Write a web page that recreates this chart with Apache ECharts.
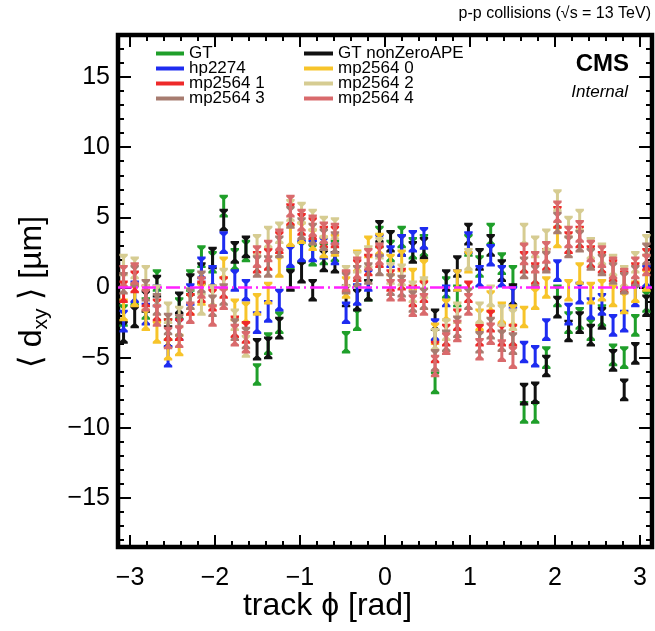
<!DOCTYPE html>
<html>
<head>
<meta charset="utf-8">
<script src="https://cdn.jsdelivr.net/npm/echarts@6/dist/echarts.min.js"></script>
<style>
html, body { margin: 0; padding: 0; background: #fff; }
#chart { width: 655px; height: 631px; }
</style>
</head>
<body>
<div id="chart"></div>
<script>
// 48 bins in track phi, from -pi to pi
const nBins = 48
const phiMin = -Math.PI
const phiMax = Math.PI

const gt = [-2.0,-0.5,-1.5,0.5,-3.0,-1.5,0.5,2.2,1.8,5.8,2.0,2.6,-6.2,-4.0,-2.5,0.6,2.5,2.3,2.4,2.6,-3.9,-2.3,-0.2,3.6,2.6,3.6,2.8,3.0,-6.8,0.0,-0.6,3.0,1.5,3.8,1.7,0.8,-8.9,-8.9,-5.0,-0.6,-2.5,-2.2,-3.0,-2.0,-4.8,-5.0,-2.7,-1.0]
const gtNonZeroAPE = [-3.2,-2.1,-1.0,0.1,-3.5,-1.1,0.2,1.0,2.1,4.8,2.5,2.9,-4.4,-4.3,-2.9,0.5,1.1,-0.2,1.9,1.8,-0.6,-0.9,-0.2,4.0,3.3,3.0,2.5,2.8,-2.3,0.5,1.5,3.8,2.0,3.0,1.2,-0.5,-7.6,-7.5,-5.6,-1.4,-3.1,-2.5,-3.4,-2.2,-5.2,-7.3,-4.7,-1.3]
const hp2274 = [-2.4,-0.3,-1.9,-0.6,-4.9,-3.0,-0.5,1.4,0.8,3.2,0.5,-0.2,-2.5,-1.7,-0.9,2.2,2.6,2.6,2.8,2.4,-1.8,-0.5,0.5,3.0,2.2,3.0,3.3,3.5,-3.0,-0.6,0.5,3.2,0.8,2.3,0.8,-0.7,-4.6,-4.9,-3.0,1.2,-1.9,-0.4,-1.5,-1.2,-2.7,-2.4,-0.6,0.8]
const mp0 = [-1.6,-0.6,-2.3,-3.2,-4.4,-4.1,-1.2,-0.5,-0.6,1.4,-1.6,-1.8,-1.2,-0.4,1.5,3.7,3.9,3.4,2.9,3.0,0.0,1.9,2.9,3.1,1.6,1.9,0.6,1.2,-3.3,-1.6,0.5,1.8,-2.3,-1.0,-1.8,-2.0,-2.1,-0.8,0.0,3.6,-0.2,1.0,-0.4,-0.2,-0.6,-1.1,-0.3,0.5]
const mp1 = [-0.3,0.4,-0.6,-1.6,-3.0,-3.0,-1.2,-0.3,-0.9,0.0,-2.8,-3.2,1.8,2.0,3.2,5.2,4.5,4.2,3.6,3.6,0.4,1.2,1.6,2.2,0.5,0.6,-0.6,-0.3,-4.6,-3.4,-2.3,-0.3,-3.4,-2.4,-3.4,-3.4,1.8,1.0,2.0,5.0,3.2,3.6,2.2,1.8,1.2,0.4,1.0,2.0]
const mp2 = [1.6,1.4,0.8,-0.6,-1.8,-2.1,-0.8,-1.2,-0.6,0.6,-2.3,-4.2,3.0,3.6,3.9,5.5,5.3,4.8,4.3,4.2,0.8,1.8,2.2,2.8,1.0,0.9,-0.3,0.0,-3.7,-3.0,-1.8,2.0,-1.8,-0.6,-2.0,-2.3,3.8,2.9,3.4,6.2,4.3,4.8,2.8,2.4,1.6,0.8,1.8,3.0]
const mp3 = [0.3,0.8,-0.2,-1.2,-2.6,-2.7,-0.8,0.4,-1.3,-0.5,-3.0,-3.6,1.5,1.5,2.9,5.0,4.2,3.8,3.4,3.2,0.3,0.8,1.0,1.6,0.2,0.1,-1.0,-0.8,-5.2,-3.8,-2.8,-0.8,-3.9,-2.9,-3.8,-4.0,1.4,0.8,1.8,4.6,2.9,3.3,2.0,1.6,1.0,0.3,0.8,2.4]
const mp4 = [0.8,1.0,-0.9,-2.0,-3.6,-3.5,-1.8,0.0,-2.0,-0.8,-3.4,-3.9,2.2,2.6,3.4,5.8,4.8,4.4,3.9,3.8,0.5,1.4,2.0,2.4,-0.2,-0.2,-1.3,-1.2,-5.6,-4.0,-3.1,-1.2,-4.4,-3.3,-4.5,-5.0,2.4,1.8,2.5,5.4,3.6,4.0,2.6,2.2,1.4,0.6,1.4,1.6]
const errHalf = 0.7

const refLine = [[phiMin, 0], [phiMax, 0]]

const xMajor = [-3, -2, -1, 0, 1, 2, 3]
const xMinor = [-3.0,-2.8,-2.6,-2.4,-2.2,-1.8,-1.6,-1.4,-1.2,-0.8,-0.6,-0.4,-0.2,0.2,0.4,0.6,0.8,1.2,1.4,1.6,1.8,2.2,2.4,2.6,2.8,3.0].filter(v => xMajor.indexOf(v) < 0)
const yMajor = [-15, -10, -5, 0, 5, 10, 15]
const yMinor = [-18,-17,-16,-14,-13,-12,-11,-9,-8,-7,-6,-4,-3,-2,-1,1,2,3,4,6,7,8,9,11,12,13,14,16,17]

const FONT = 'Liberation Sans'
const minus = v => (v < 0 ? '\u2212' + Math.abs(v) : String(v))

const binWidth = (phiMax - phiMin) / nBins
const centers = Array.from({ length: nBins }, (_, i) => phiMin + (i + 0.5) * binWidth)

function errorBars(err) {
	return function (params, api) {
		const x = api.value(0)
		const y = api.value(1)
		const top = api.coord([x, y + err])
		const bot = api.coord([x, y - err])
		const color = api.visual('color')
		const w = 4.2
		const cap = (px, py, d) => ({
			type: 'polygon',
			shape: { points: [[px - w, py - 1.5 * d], [px + w, py - 1.5 * d], [px + w, py + 0.5 * d], [px + 1.5, py + 3 * d], [px - 1.5, py + 3 * d], [px - w, py + 0.5 * d]] },
			style: { fill: color }
		})
		return {
			type: 'group',
			children: [
				{ type: 'line', shape: { x1: top[0], y1: top[1], x2: bot[0], y2: bot[1] }, style: { stroke: color, lineWidth: 3 } },
				cap(top[0], top[1], 1),
				cap(bot[0], bot[1], -1)
			]
		}
	}
}

function series(name, values, color) {
	return {
		name: name,
		type: 'custom',
		renderItem: errorBars(errHalf),
		itemStyle: { color: color },
		clip: true,
		data: values.map((v, i) => [centers[i], v])
	}
}

function xAx(position, ticks, len, labels) {
	return {
		type: 'value', min: phiMin, max: phiMax, position: position,
		axisLine: { show: false, onZero: false },
		splitLine: { show: false },
		axisTick: { inside: true, length: len, customValues: ticks, lineStyle: { color: '#000', width: 2 } },
		axisLabel: labels
			? { customValues: ticks, formatter: minus, fontSize: 25, color: '#000', fontFamily: FONT, margin: 19 }
			: { show: false }
	}
}

function yAx(position, ticks, len, labels) {
	return {
		type: 'value', min: -18.5, max: 18, position: position,
		axisLine: { show: false, onZero: false },
		splitLine: { show: false },
		axisTick: { inside: true, length: len, customValues: ticks, lineStyle: { color: '#000', width: 2 } },
		axisLabel: labels
			? { customValues: ticks, formatter: minus, fontSize: 25, color: '#000', fontFamily: FONT, margin: 8 }
			: { show: false }
	}
}

const legendText = { fontSize: 17, lineHeight: 15, color: '#000', fontFamily: FONT }

const option = {
	animation: false,
	backgroundColor: '#fff',
	grid: { left: 118, right: 3, top: 35, bottom: 84, show: true, borderWidth: 4.5, borderColor: '#000', backgroundColor: 'transparent' },
	xAxis: [
		xAx('bottom', xMajor, 12, true),
		xAx('bottom', xMinor, 6, false),
		xAx('top', xMajor, 12, false),
		xAx('top', xMinor, 6, false)
	],
	yAxis: [
		yAx('left', yMajor, 13, true),
		yAx('left', yMinor, 6, false),
		yAx('right', yMajor, 13, false),
		yAx('right', yMinor, 6, false)
	],
	legend: [
		{ orient: 'vertical', left: 156, top: 45, padding: 0, itemGap: -2, itemWidth: 28, itemHeight: 4, icon: 'rect', selectedMode: false, textStyle: legendText,
			data: ['GT', 'hp2274', 'mp2564 1', 'mp2564 3'] },
		{ orient: 'vertical', left: 304, top: 45, padding: 0, itemGap: -2, itemWidth: 29, itemHeight: 4, icon: 'rect', selectedMode: false, textStyle: legendText,
			data: ['GT nonZeroAPE', 'mp2564 0', 'mp2564 2', 'mp2564 4'] }
	],
	graphic: [
		{ type: 'text', right: 4, top: 6, style: { text: 'p-p collisions (\u221As = 13 TeV)', fontSize: 16, fontFamily: FONT, fill: '#000' } },
		{ type: 'text', right: 26, top: 52, style: { text: 'CMS', fontSize: 24, fontWeight: 'bold', fontFamily: FONT, fill: '#000' } },
		{ type: 'text', right: 27, top: 84, style: { text: 'Internal', fontSize: 17, fontStyle: 'italic', fontFamily: FONT, fill: '#000' } },
		{ type: 'text', left: 'center', top: 590, style: { text: 'track \u03D5 [rad]', fontSize: 32, fontFamily: FONT, fill: '#000' } },
		{
			type: 'text', x: 32, y: 292, rotation: Math.PI / 2,
			style: {
				text: '{a|\u27E8 d}{s|xy}{a| \u27E9 [\u00B5m]}',
				align: 'center', verticalAlign: 'middle',
				rich: {
					a: { fontSize: 32, fontFamily: FONT, fill: '#000', lineHeight: 40, verticalAlign: 'middle' },
					s: { fontSize: 21, fontFamily: FONT, fill: '#000', lineHeight: 40, verticalAlign: 'bottom' }
				}
			}
		}
	],
	series: [
		series('GT', gt, '#1f9f2a'),
		series('GT nonZeroAPE', gtNonZeroAPE, '#111111'),
		series('hp2274', hp2274, '#1e2cf0'),
		series('mp2564 0', mp0, '#f7c42a'),
		series('mp2564 1', mp1, '#ee2a2a'),
		series('mp2564 2', mp2, '#d6cc92'),
		series('mp2564 3', mp3, '#a77c70'),
		series('mp2564 4', mp4, '#d96a6c'),
		{
			name: 'ref', type: 'line', data: refLine, symbol: 'none', z: 5, silent: true,
			lineStyle: { color: '#ff22ff', width: 2.5, type: [14, 4, 2, 4] }
		}
	]
}

const chart = echarts.init(document.getElementById('chart'))
chart.setOption(option)
</script>
</body>
</html>
